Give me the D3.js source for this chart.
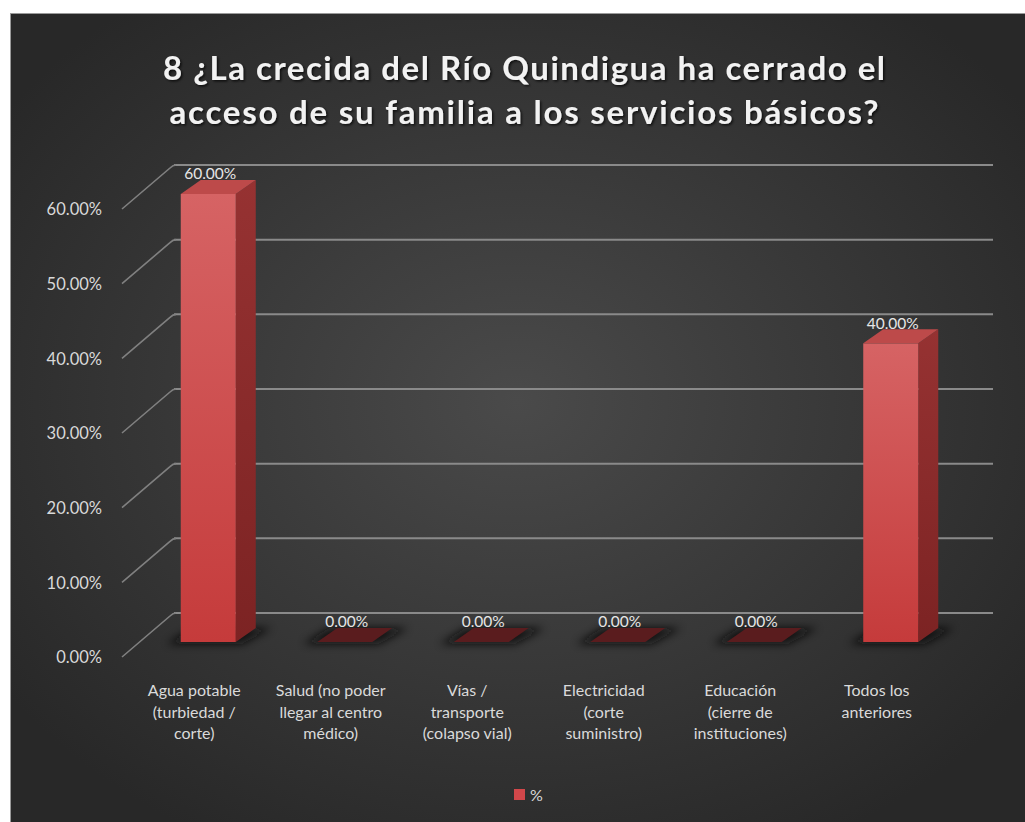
<!DOCTYPE html>
<html>
<head>
<meta charset="utf-8">
<script src="https://cdn.jsdelivr.net/npm/d3@7"></script>
<style>
  html, body { margin: 0; padding: 0; background: #ffffff; }
  svg { display: block; }
</style>
</head>
<body>
<svg id="chart" width="1025" height="822"></svg>
<script>
// Survey question 8: share of families whose access to basic services was cut
const titleLines = [
  "8 ¿La crecida del Río Quindigua  ha cerrado el",
  "acceso de su familia a los servicios básicos?"
];
const categories = [
  ["Agua potable", "(turbiedad /", "corte)"],
  ["Salud (no poder", "llegar al centro", "médico)"],
  ["Vías /", "transporte", "(colapso vial)"],
  ["Electricidad", "(corte", "suministro)"],
  ["Educación", "(cierre de", "instituciones)"],
  ["Todos los", "anteriores"]
];
const values = [0.60, 0, 0, 0, 0, 0.40];
const yTicks = [0, 0.1, 0.2, 0.3, 0.4, 0.5, 0.6];
const seriesName = "%";

const W = 1025, H = 822;
const svg = d3.select("#chart");
const defs = svg.append("defs");
const pct = d3.format(".2%");
const font = "Lato, 'Open Sans', sans-serif";

// Background panel with soft radial lighting
const bg = defs.append("radialGradient").attr("id", "bgGrad")
  .attr("cx", "50%").attr("cy", "48%").attr("r", "62%");
bg.append("stop").attr("offset", "0%").attr("stop-color", "#4a4a4a");
bg.append("stop").attr("offset", "100%").attr("stop-color", "#282828");

const frontGrad = defs.append("linearGradient").attr("id", "frontGrad")
  .attr("x1", 0).attr("y1", 0).attr("x2", 0).attr("y2", 1);
frontGrad.append("stop").attr("offset", "0%").attr("stop-color", "#d66364");
frontGrad.append("stop").attr("offset", "100%").attr("stop-color", "#c53b3b");

const sideGrad = defs.append("linearGradient").attr("id", "sideGrad")
  .attr("x1", 0).attr("y1", 0).attr("x2", 0).attr("y2", 1);
sideGrad.append("stop").attr("offset", "0%").attr("stop-color", "#963232");
sideGrad.append("stop").attr("offset", "100%").attr("stop-color", "#7c2323");

defs.append("filter").attr("id", "shadowBlur")
  .attr("x", "-50%").attr("y", "-100%").attr("width", "200%").attr("height", "300%")
  .append("feGaussianBlur").attr("stdDeviation", 4);

const textShadow = defs.append("filter").attr("id", "textShadow")
  .attr("x", "-10%").attr("y", "-30%").attr("width", "120%").attr("height", "160%");
textShadow.append("feDropShadow").attr("dx", 1.5).attr("dy", 1.5)
  .attr("stdDeviation", 1.2).attr("flood-color", "#000").attr("flood-opacity", 0.7);

svg.append("rect").attr("x", 10).attr("y", 13).attr("width", W - 10).attr("height", H - 13)
  .attr("fill", "url(#bgGrad)");
svg.append("line").attr("x1", 10).attr("x2", W).attr("y1", 13.5).attr("y2", 13.5)
  .attr("stroke", "#9a9a9a").attr("stroke-width", 1);
svg.append("line").attr("x1", 10.5).attr("x2", 10.5).attr("y1", 13).attr("y2", H)
  .attr("stroke", "#9a9a9a").attr("stroke-width", 1);

// Title
svg.append("g").attr("filter", "url(#textShadow)")
  .selectAll("text").data(titleLines).join("text")
  .attr("x", 524).attr("y", (d, i) => 80 + i * 44)
  .attr("text-anchor", "middle")
  .attr("font-family", font).attr("font-weight", 700).attr("font-size", 33)
  .attr("fill", "#f2f2f2")
  .attr("textLength", (d, i) => i === 0 ? 722 : 709)
  .attr("lengthAdjust", "spacing")
  .text(d => d);

// Pseudo-3D geometry: back wall plane, front (axis) plane, bar depth vector
const wallLeft = 174, wallRight = 993;
const yBack = d3.scaleLinear().domain([0, 0.6]).range([613, 165]);
const axisOff = { dx: -52, dy: 44 };     // back wall -> front axis edge
const barFront = { dx: -34, dy: 29 };    // back wall -> bar front face
const depth = { dx: 20, dy: -14 };       // bar front face -> bar back face

const x = d3.scaleBand().domain(d3.range(categories.length))
  .range([wallLeft, wallRight]).paddingInner(0).paddingOuter(0);
const barW = 55;
const cx = i => x(i) + x.bandwidth() / 2 + barFront.dx;   // bar front centre
const yF = v => yBack(v) + barFront.dy;

// Gridlines on the back wall + diagonal edge lines to the axis labels
const grid = svg.append("g");
grid.selectAll("line.h").data(yTicks).join("line").attr("class", "h")
  .attr("x1", wallLeft).attr("x2", wallRight)
  .attr("y1", d => yBack(d)).attr("y2", d => yBack(d))
  .attr("stroke", "#8a8a8a").attr("stroke-width", 2);
grid.selectAll("path.d").data(yTicks).join("path").attr("class", "d")
  .attr("d", d => `M${wallLeft + axisOff.dx},${yBack(d) + axisOff.dy} L${wallLeft - 4},${yBack(d) + 3} Q${wallLeft - 1},${yBack(d)} ${wallLeft + 2},${yBack(d)}`)
  .attr("fill", "none").attr("stroke", "#808080").attr("stroke-width", 1.6);

// Y tick labels through a left axis placed on the front edge
const yAxisScale = d3.scaleLinear().domain([0, 0.6])
  .range([yBack(0) + axisOff.dy, yBack(0.6) + axisOff.dy]);
const yAxis = svg.append("g")
  .attr("transform", `translate(${wallLeft + axisOff.dx - 18},0)`)
  .call(d3.axisLeft(yAxisScale).tickValues(yTicks).tickFormat(pct).tickSize(0).tickPadding(2));
yAxis.select(".domain").remove();
yAxis.selectAll("text").attr("font-family", font).attr("font-size", 16.5)
  .attr("fill", "#d9d9d9").attr("dy", "0.35em");

// Bars
const bars = svg.append("g").selectAll("g").data(values).join("g");

// soft floor shadow under each bar
bars.append("path")
  .attr("d", (v, i) => {
    const l = cx(i) - barW / 2 - 14, r = cx(i) + barW / 2 + 6, b = yF(0) + 2;
    return `M${l},${b} L${r},${b} L${r + depth.dx + 10},${b + depth.dy - 2} L${l + depth.dx + 6},${b + depth.dy - 2} Z`;
  })
  .attr("fill", "#0c0c0c").attr("opacity", 0.85).attr("filter", "url(#shadowBlur)");

bars.each(function (v, i) {
  const g = d3.select(this);
  const l = cx(i) - barW / 2, r = cx(i) + barW / 2;
  const top = yF(v), bot = yF(0);
  if (v > 0) {
    // side face
    g.append("path")
      .attr("d", `M${r},${top} L${r + depth.dx},${top + depth.dy} L${r + depth.dx},${bot + depth.dy} L${r},${bot} Z`)
      .attr("fill", "url(#sideGrad)");
    // front face
    g.append("rect").attr("x", l).attr("y", top).attr("width", barW).attr("height", bot - top)
      .attr("fill", "url(#frontGrad)");
  }
  // top face
  g.append("path")
    .attr("d", `M${l},${top} L${r},${top} L${r + depth.dx},${top + depth.dy} L${l + depth.dx},${top + depth.dy} Z`)
    .attr("fill", v > 0 ? "#bd4a4a" : "#5a1c1e");
});

// Value labels above each bar
svg.append("g").selectAll("text").data(values).join("text")
  .attr("x", (v, i) => cx(i) + 2)
  .attr("y", v => yF(v) + depth.dy - 6)
  .attr("dy", "0.35em")
  .attr("text-anchor", "middle")
  .attr("font-family", font).attr("font-size", 15.5).attr("fill", "#e6e6e6")
  .text(v => pct(v));

// Category labels
svg.append("g").selectAll("text").data(categories).join("text")
  .attr("text-anchor", "middle")
  .attr("font-family", font).attr("font-size", 16).attr("fill", "#dadada")
  .each(function (lines, i) {
    d3.select(this).selectAll("tspan").data(lines).join("tspan")
      .attr("x", cx(i) - 14)
      .attr("y", (d, k) => 696 + k * 21.5)
      .text(d => d);
  });

// Legend
const legend = svg.append("g").attr("transform", "translate(514,789)");
legend.append("rect").attr("width", 11).attr("height", 11).attr("fill", "#d2474a");
legend.append("text").attr("x", 16).attr("y", 6).attr("dy", "0.35em")
  .attr("font-family", font).attr("font-size", 16).attr("fill", "#d9d9d9")
  .text(seriesName);
</script>
</body>
</html>
